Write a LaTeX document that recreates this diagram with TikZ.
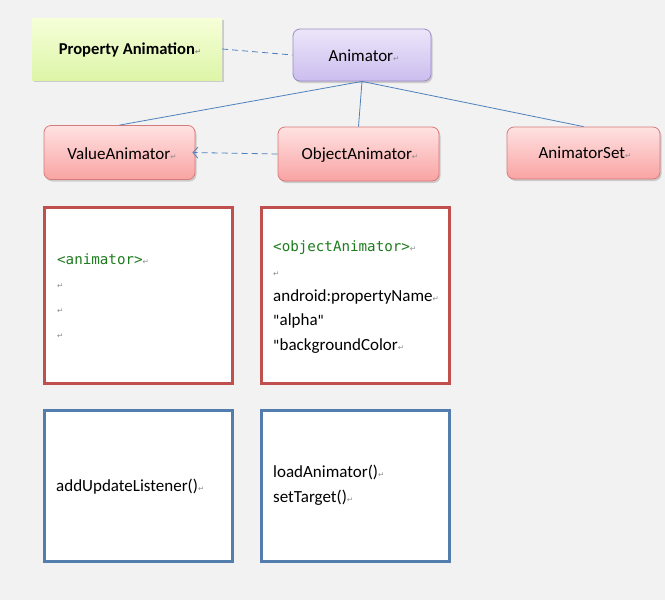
\documentclass[tikz,border=0pt]{standalone}
\usepackage{fontspec}
\setmainfont{Carlito}
\newfontfamily\monof{DejaVu Sans Mono}
\newfontfamily\symf{DejaVu Sans}
\usetikzlibrary{shadows,arrows.meta}
\definecolor{bg}{HTML}{F2F2F2}
\definecolor{greentop}{HTML}{F6FFD8}
\definecolor{greenbot}{HTML}{DDF5A8}
\definecolor{purptop}{HTML}{ECE6FA}
\definecolor{purpbot}{HTML}{CBBDEE}
\definecolor{purpline}{HTML}{9B8BC6}
\definecolor{pinktop}{HTML}{FFE2E2}
\definecolor{pinkbot}{HTML}{F9A3A3}
\definecolor{pinkline}{HTML}{D77A7A}
\definecolor{redline}{HTML}{C0504D}
\definecolor{blueline}{HTML}{527DAD}
\definecolor{conn}{HTML}{4F81BD}
\definecolor{codegreen}{HTML}{1E7B1E}
\definecolor{retgray}{HTML}{8C8C8C}
\newcommand{\ret}{{\symf\fontsize{7.5}{7.5}\selectfont\color{retgray}↵}}
\newcommand{\qt}{{\symf\fontsize{14}{14}\selectfont\symbol{34}}}
\tikzset{
  shad/.style={drop shadow={shadow xshift=1.5pt,shadow yshift=-2pt,fill=black!35,opacity=0.5}},
  greenbox/.style={shad,top color=greentop,bottom color=greenbot,draw=none,
    minimum width=190pt,minimum height=62pt,inner sep=0pt},
  purpbox/.style={shad,rounded corners=7pt,top color=purptop,bottom color=purpbot,draw=purpline,line width=0.8pt,
    minimum width=138pt,minimum height=52pt,inner sep=0pt},
  pinkbox/.style={shad,rounded corners=7pt,top color=pinktop,bottom color=pinkbot,draw=pinkline,line width=0.8pt,
    minimum height=54pt,inner sep=0pt},
  redbox/.style={draw=redline,line width=3pt,fill=white,minimum width=188pt,minimum height=176pt,inner sep=0pt},
  bluebox/.style={draw=blueline,line width=3pt,fill=white,minimum width=188pt,minimum height=151pt,inner sep=0pt},
  lbl/.style={font=\fontsize{17}{19}\selectfont,text=black},
  txt/.style={anchor=base west,inner sep=0pt,font=\fontsize{17}{19}\selectfont,text=black},
  code/.style={anchor=base west,inner sep=0pt,font=\monof\fontsize{14.2}{16}\selectfont,text=codegreen},
  conline/.style={draw=conn,line width=0.8pt},
  dashline/.style={draw=conn,line width=0.8pt,dash pattern=on 6pt off 4pt},
}
\begin{document}
\begin{tikzpicture}[x=1pt,y=-1pt]
\fill[bg] (0,0) rectangle (665,600);
\useasboundingbox (0,0) rectangle (665,600);

\node[greenbox] (pa) at (127,49) {};
\node[lbl,font=\bfseries\fontsize{16.6}{18}\selectfont] (patext) at (130,50) {Property Animation\ret};
\node[purpbox] (anim) at (362,55) {};
\node[lbl] (animtext) at (364,56) {Animator\ret};

\node[pinkbox,minimum width=151pt] (va) at (119.5,152.5) {};
\node[lbl] (vatext) at (122,154) {ValueAnimator\ret};
\node[pinkbox,minimum width=161pt] (oa) at (358.5,154) {};
\node[lbl] (oatext) at (360,155) {ObjectAnimator\ret};
\node[pinkbox,minimum width=153pt,minimum height=52pt] (as) at (583.5,153) {};
\node[lbl] (astext) at (585,153) {AnimatorSet\ret};

\draw[dashline] (pa.east) -- (anim.west);
\draw[conline] (anim.south) -- (va.north);
\draw[conline] (anim.south) -- (oa.north);
\draw[conline] (anim.south) -- (as.north);
\draw[dashline,-{Straight Barb[length=5pt,width=11pt]}] (oa.west) -- ([xshift=-3pt]va.east);

\node[redbox] (r1) at (138,295) {};
\node[redbox] (r2) at (355,295) {};
\node[bluebox] (b1) at (138,485.5) {};
\node[bluebox] (b2) at (355,485.5) {};

\node[code] (t1) at (57,264) {<animator>\ret};
\node[txt] (t2) at (57,288) {\ret};
\node[txt] (t3) at (57,313) {\ret};
\node[txt] (t4) at (57,338) {\ret};

\node[code] (u1) at (273,251) {<objectAnimator>\ret};
\node[txt] (u2) at (273,276) {\ret};
\node[txt] (u3) at (273,301) {android:propertyName\ret};
\node[txt] (u4) at (273,325) {\qt alpha\qt};
\node[txt] (u5) at (273,350) {\qt backgroundColor\ret};

\node[txt] (v1) at (56,491) {addUpdateListener()\ret};
\node[txt] (w1) at (273,477) {loadAnimator()\ret};
\node[txt] (w2) at (273,502) {setTarget()\ret};
\end{tikzpicture}
\end{document}
